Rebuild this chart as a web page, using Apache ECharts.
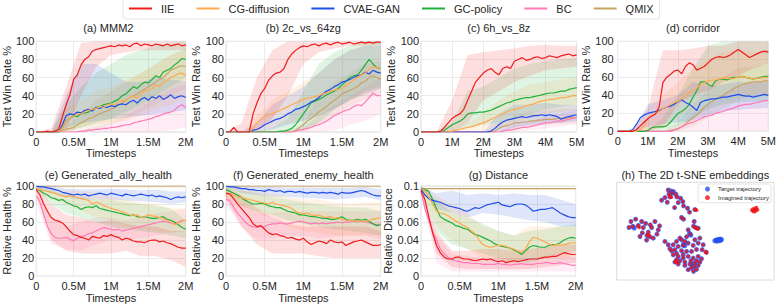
<!DOCTYPE html>
<html><head><meta charset="utf-8">
<script src="https://cdn.jsdelivr.net/npm/echarts@6/dist/echarts.min.js"></script>
<style>html,body{margin:0;padding:0;background:#fff}#c{width:781px;height:304px}</style>
</head><body><div id="c"></div>
<script>
const methods = ['IIE','CG-diffusion','CVAE-GAN','GC-policy','BC','QMIX'];
const methodColors = ['#ee1c1c','#ffa94d','#1f4de8','#1fb13a','#ff7ab6','#caa265'];

const xs2 = [0,0.05,0.1,0.15,0.2,0.25,0.3,0.35,0.4,0.45,0.5,0.55,0.6,0.65,0.7,0.75,0.8,0.85,0.9,0.95,1,1.05,1.1,1.15,1.2,1.25,1.3,1.35,1.4,1.45,1.5,1.55,1.6,1.65,1.7,1.75,1.8,1.85,1.9,1.95,2];
const xs5 = [0,0.125,0.25,0.375,0.5,0.625,0.75,0.875,1,1.125,1.25,1.375,1.5,1.625,1.75,1.875,2,2.125,2.25,2.375,2.5,2.625,2.75,2.875,3,3.125,3.25,3.375,3.5,3.625,3.75,3.875,4,4.125,4.25,4.375,4.5,4.625,4.75,4.875,5];
const bx2 = [0,0.2,0.4,0.6,0.8,1,1.2,1.4,1.6,1.8,2];
const bx5 = [0,0.5,1,1.5,2,2.5,3,3.5,4,4.5,5];
const ticks2 = ['0','0.5M','1M','1.5M','2M'];
const ticks5 = ['0','1M','2M','3M','4M','5M'];
const yRate = ['0','20','40','60','80','100'];
const yDist = ['0','0.02','0.04','0.06','0.08','0.1'];

// (a) MMM2
const a_IIE  = [0,0,0,1,0,1,3,17,30,41,58,63,74,80,83,89,91,92,93,94,95,94,96,95,96,94,97,98,95,97,96,95,97,96,95,97,95,96,97,95,96];
const a_CG   = [0,0,0,0,0,0,0,5,12,15,17,20,20,22,24,25,26,28,27,30,31,30,33,35,34,38,40,37,42,45,46,48,52,50,55,57,60,62,64,65,62];
const a_CVAE = [0,0,0,0,0,0,0,8,18,20,19,22,21,24,25,23,27,26,28,27,29,28,30,31,30,33,35,32,36,38,35,39,37,40,36,38,41,37,39,40,38];
const a_GC   = [0,0,0,0,0,0,0,5,12,15,18,17,20,21,22,25,27,28,30,31,32,34,36,40,42,46,50,48,52,55,54,58,62,60,66,68,70,74,77,81,80];
const a_BC   = [0,0,0,0,0,0,0,0,0,0,0,0,1,1,2,2,3,3,4,4,5,5,6,7,8,8,10,11,12,13,14,15,17,18,20,21,22,24,28,30,27];
const a_QMIX = [0,0,0,0,0,0,0,2,3,4,5,8,10,12,15,16,18,20,22,23,25,27,30,32,35,38,40,42,45,47,50,52,55,58,60,64,68,70,72,73,72];
const a_IIE_lo=[0,0,2,40,72,85,88,90,90,90,90], a_IIE_hi=[0,4,50,98,100,100,100,100,100,100,100];
const a_CG_lo=[0,0,0,5,8,10,12,18,25,30,38], a_CG_hi=[0,0,25,35,45,50,58,65,75,85,90];
const a_CVAE_lo=[0,0,5,10,12,14,16,18,20,22,24], a_CVAE_hi=[0,0,40,75,75,65,55,55,60,58,56];
const a_GC_lo=[0,0,0,5,10,15,22,30,40,50,60], a_GC_hi=[0,0,30,50,65,75,85,90,95,98,100];
const a_BC_lo=[0,0,0,0,0,0,0,0,0,2,5], a_BC_hi=[0,0,0,2,6,10,18,28,38,48,52];
const a_QMIX_lo=[0,0,0,0,2,8,15,22,30,40,48], a_QMIX_hi=[0,0,5,20,35,45,55,65,75,85,92];

// (b) 2c_vs_64zg
const b_IIE  = [0,0,5,0,0,0,0,20,32,42,48,57,62,65,66,70,80,86,90,93,95,94,96,97,95,97,98,96,98,99,97,98,99,97,98,99,98,99,98,99,99];
const b_CG   = [0,0,0,0,0,0,0,4,10,14,17,19,20,22,24,26,28,30,32,34,36,37,38,39,40,42,43,45,46,47,48,51,54,57,60,63,65,69,72,71,70];
const b_CVAE = [0,0,0,0,0,0,0,2,3,5,8,10,12,14,15,17,20,22,25,26,28,30,33,35,38,42,45,47,50,52,55,56,58,60,62,63,66,64,68,66,65];
const b_GC   = [0,0,0,0,0,0,0,0,0,0,0,0,0,0,1,1,2,4,8,14,20,26,32,34,36,38,41,43,45,48,52,56,60,62,63,68,74,80,75,71,70];
const b_BC   = [0,0,0,0,0,0,0,0,0,0,0,0,0,0,0,0,0,0,1,2,3,4,5,7,8,10,12,15,18,20,22,24,25,28,30,29,33,38,43,40,40];
const b_QMIX = [0,0,0,0,0,0,0,0,0,0,0,0,0,0,0,0,0,0,2,5,8,12,15,18,22,25,28,32,35,38,42,44,46,48,50,54,56,60,62,60,58];
const b_IIE_lo=[0,0,0,15,40,75,88,92,95,95,96], b_IIE_hi=[0,10,60,90,100,100,100,100,100,100,100];
const b_CG_lo=[0,0,0,5,10,12,18,25,35,42,48], b_CG_hi=[0,0,18,35,45,55,65,80,90,95,95];
const b_CVAE_lo=[0,0,0,3,8,12,18,25,35,42,48], b_CVAE_hi=[0,0,10,30,40,50,65,80,90,95,95];
const b_GC_lo=[0,0,0,0,0,2,10,25,35,45,50], b_GC_hi=[0,0,0,5,15,45,75,88,95,100,100];
const b_BC_lo=[0,0,0,0,0,0,0,2,8,12,20], b_BC_hi=[0,0,0,0,0,5,18,30,40,50,60];
const b_QMIX_lo=[0,0,0,0,0,0,8,18,28,36,42], b_QMIX_hi=[0,0,0,0,0,10,40,55,65,75,78];

// (c) 6h_vs_8z
const c_IIE  = [0,0,0,0,0,1,5,10,15,18,20,25,35,45,55,60,65,68,70,66,63,70,72,70,78,80,82,79,80,82,83,81,82,84,83,82,84,85,86,84,85];
const c_CG   = [0,0,0,0,0,0,0,0,1,2,3,4,5,6,7,9,10,12,14,16,18,20,22,24,25,26,27,29,30,31,33,34,35,36,36,37,38,38,39,40,40];
const c_CVAE = [0,0,0,0,0,0,0,0,0,0,0,0,0,0,0,0,0,0,1,4,8,11,13,14,15,16,17,16,17,18,18,19,18,19,18,17,14,16,17,18,19];
const c_GC   = [0,0,0,0,0,0,2,5,8,10,12,15,20,21,21,22,22,23,24,26,28,30,32,33,35,36,37,38,38,39,40,41,42,43,43,44,45,45,47,48,49];
const c_BC   = [0,0,0,0,0,0,0,0,0,0,0,0,0,0,0,0,0,0,0,0,0,1,2,2,3,4,5,5,6,7,8,9,10,10,11,12,12,13,14,15,16];
const c_QMIX = [0,0,0,0,0,1,0,0,0,0,0,0,0,0,0,0,0,0,0,1,4,6,7,8,10,10,11,11,12,12,13,13,14,14,14,15,15,15,16,16,16];
const c_IIE_lo=[0,0,0,10,35,45,55,62,68,70,72], c_IIE_hi=[0,0,35,85,88,90,92,95,96,95,95];
const c_CG_lo=[0,0,0,0,2,5,10,15,20,22,25], c_CG_hi=[0,0,0,10,20,35,45,52,55,58,60];
const c_CVAE_lo=[0,0,0,0,0,0,5,8,10,10,12], c_CVAE_hi=[0,0,0,0,0,20,30,30,32,30,30];
const c_GC_lo=[0,0,0,5,8,10,15,20,25,28,30], c_GC_hi=[0,0,10,45,50,60,70,75,78,80,82];
const c_BC_lo=[0,0,0,0,0,0,0,2,4,6,8], c_BC_hi=[0,0,0,0,0,0,8,12,18,20,25];
const c_QMIX_lo=[0,0,0,0,0,0,3,6,8,9,10], c_QMIX_hi=[0,0,0,0,0,10,18,22,24,25,26];

// (d) corridor
const d_IIE  = [0,0,0,0,0,2,6,10,14,17,19,27,54,60,63,67,68,64,72,76,74,68,70,72,76,80,82,83,82,83,85,88,91,88,85,82,84,86,88,89,88];
const d_CG   = [0,0,0,0,0,0,2,6,14,17,20,22,25,27,30,32,33,36,40,43,45,48,52,54,56,57,57,58,59,60,58,59,60,61,60,59,58,59,59,60,60];
const d_CVAE = [0,0,0,0,2,8,15,18,20,21,22,23,25,27,28,30,33,35,32,30,27,23,32,34,35,36,36,37,38,38,39,40,41,40,39,39,38,39,40,41,40];
const d_GC   = [0,0,0,0,0,0,0,0,1,4,5,5,5,6,10,15,20,22,25,30,38,45,55,55,52,50,56,58,58,57,59,60,60,61,60,59,58,59,60,61,61];
const d_BC   = [0,0,0,0,0,0,0,0,0,0,0,0,0,0,0,1,3,5,7,9,10,12,14,16,17,18,20,21,22,24,25,26,28,29,30,30,31,32,33,34,34];
const d_QMIX = [0,0,0,0,0,0,0,0,0,0,0,0,0,0,1,2,3,5,8,12,15,18,22,27,30,33,36,38,40,43,45,48,50,52,53,54,55,55,55,56,56];
const d_IIE_lo=[0,0,0,5,30,40,45,55,62,70,75], d_IIE_hi=[0,0,25,90,90,92,95,95,100,100,100];
const d_CG_lo=[0,0,0,5,15,25,35,40,42,40,42], d_CG_hi=[0,0,10,40,55,70,80,88,90,88,90];
const d_CVAE_lo=[0,0,5,8,10,12,18,22,24,25,26], d_CVAE_hi=[0,0,30,35,40,55,50,52,55,54,55];
const d_GC_lo=[0,0,0,0,5,15,25,30,32,33,34], d_GC_hi=[0,0,0,15,40,70,95,100,100,100,100];
const d_BC_lo=[0,0,0,0,0,0,0,0,0,0,0], d_BC_hi=[0,0,0,0,5,20,30,40,50,55,60];
const d_QMIX_lo=[0,0,0,0,0,5,15,25,35,40,42], d_QMIX_hi=[0,0,0,0,10,30,45,60,70,72,74];

// (e) Generated_ally_health
const e_IIE  = [96,90,80,72,65,62,61,59,55,50,46,45,43,42,40,44,43,42,45,44,46,44,43,40,42,41,39,38,38,37,39,40,40,38,39,37,36,34,32,31,31];
const e_CG   = [97,96,95,94,93,92,90,89,88,89,88,87,86,85,84,80,82,81,78,77,75,74,73,71,70,68,67,68,65,66,68,67,66,65,64,62,60,57,59,61,62];
const e_CVAE = [100,99,99,98,97,96,95,93,92,91,90,91,90,91,89,90,91,92,91,90,92,91,90,89,91,90,89,90,91,90,89,90,88,89,88,87,85,87,88,87,88];
const e_GC   = [97,95,92,90,87,86,84,85,82,80,78,77,74,76,77,76,78,75,74,73,72,71,70,69,68,67,68,66,65,66,65,64,64,65,66,63,62,60,57,54,52];
const e_BC   = [89,82,68,55,47,43,42,42,43,41,39,42,44,45,47,48,50,52,54,53,52,51,52,50,51,52,53,54,55,56,57,58,59,60,61,60,59,58,60,62,62];
const e_QMIX = [100,100,100,100,100,100,100,100,100,100,100,100,100,100,100,100,100,100,100,100,100,100,100,100,100,100,100,100,100,100,100,100,100,100,100,100,100,100,100,100,100];
const e_IIE_lo=[92,40,28,25,25,25,28,22,22,18,10], e_IIE_hi=[100,80,68,65,60,62,58,55,55,50,50];
const e_CG_lo=[95,85,80,72,65,62,55,52,50,48,50], e_CG_hi=[100,98,95,95,92,88,85,82,80,75,75];
const e_CVAE_lo=[98,92,88,85,85,85,84,83,82,80,82], e_CVAE_hi=[100,100,97,96,96,97,96,95,96,94,94];
const e_GC_lo=[95,80,70,65,60,55,52,50,48,45,42], e_GC_hi=[100,95,90,88,85,85,82,80,78,75,62];
const e_BC_lo=[82,35,30,28,35,40,40,42,45,48,50], e_BC_hi=[95,65,55,60,65,65,62,65,70,72,75];
const e_QMIX_lo=[98,98,98,98,98,98,98,98,98,98,98], e_QMIX_hi=[100,100,100,100,100,100,100,100,100,100,100];

// (f) Generated_enemy_health
const f_IIE  = [92,91,86,80,75,70,65,58,55,56,52,48,46,47,45,44,42,43,41,40,42,38,35,37,39,38,36,40,38,37,38,34,36,38,39,40,38,36,34,34,35];
const f_CG   = [90,92,90,88,87,86,85,84,83,82,81,80,82,80,79,78,77,75,72,70,69,70,68,67,68,66,65,66,64,65,63,62,62,61,62,61,60,62,63,64,65];
const f_CVAE = [100,99,99,98,97,97,96,96,95,95,94,96,95,94,95,93,94,94,93,94,93,92,93,93,92,93,92,93,92,91,93,92,92,93,94,95,94,92,90,89,89];
const f_GC   = [96,94,92,90,87,84,82,80,80,81,80,78,77,76,76,74,72,71,70,68,68,67,66,66,65,64,64,63,63,64,66,63,62,62,63,62,63,61,58,56,57];
const f_BC   = [85,84,76,70,65,60,56,55,54,55,55,57,58,58,59,58,58,59,60,61,60,59,58,59,58,59,58,59,59,60,59,60,60,61,60,61,60,59,58,57,58];
const f_QMIX = [100,100,100,100,100,100,100,100,100,100,100,100,100,100,100,100,100,100,100,100,100,100,100,100,100,100,100,100,100,100,100,100,100,100,100,100,100,100,100,100,100];
const f_IIE_lo=[85,55,35,25,25,25,22,20,20,20,20], f_IIE_hi=[98,90,75,65,58,55,55,55,55,55,50];
const f_CG_lo=[85,78,70,65,55,50,48,45,45,45,45], f_CG_hi=[98,98,95,92,88,85,85,82,80,82,82];
const f_CVAE_lo=[98,92,90,88,88,87,86,85,86,88,84], f_CVAE_hi=[100,100,99,99,98,98,98,98,98,99,96];
const f_GC_lo=[92,78,72,68,62,58,55,52,50,48,45], f_GC_hi=[100,95,92,88,85,82,80,78,76,76,72];
const f_BC_lo=[78,55,40,42,45,45,42,44,45,45,40], f_BC_hi=[92,80,70,70,72,72,72,72,72,72,72];
const f_QMIX_lo=[98,98,98,98,98,98,98,98,98,98,98], f_QMIX_hi=[100,100,100,100,100,100,100,100,100,100,100];

// (g) Distance
const g_IIE  = [.095,.085,.066,.048,.034,.026,.021,.019,.019,.021,.021,.019,.019,.018,.017,.018,.019,.018,.019,.017,.016,.017,.015,.016,.017,.016,.017,.018,.019,.019,.019,.020,.021,.021,.022,.022,.024,.026,.025,.024,.024];
const g_CG   = [.097,.095,.088,.080,.072,.070,.069,.067,.064,.061,.059,.056,.054,.050,.047,.040,.035,.033,.032,.033,.034,.034,.033,.031,.030,.028,.026,.030,.038,.043,.042,.040,.038,.036,.034,.035,.034,.035,.036,.037,.037];
const g_CVAE = [.097,.090,.086,.084,.083,.082,.080,.078,.077,.076,.075,.073,.072,.074,.076,.075,.077,.079,.080,.081,.082,.079,.078,.077,.079,.080,.080,.079,.076,.072,.073,.074,.074,.075,.076,.073,.070,.068,.066,.065,.065];
const g_GC   = [.097,.096,.094,.085,.075,.066,.063,.061,.059,.056,.055,.053,.052,.049,.046,.045,.043,.041,.039,.036,.034,.033,.032,.031,.029,.027,.024,.028,.032,.034,.033,.032,.032,.034,.035,.035,.037,.040,.042,.043,.042];
const g_BC   = [.095,.075,.062,.050,.040,.030,.025,.021,.018,.017,.016,.015,.015,.014,.014,.014,.013,.013,.013,.013,.014,.013,.013,.012,.013,.013,.014,.013,.013,.013,.014,.014,.015,.015,.014,.014,.015,.014,.013,.012,.012];
const g_QMIX = [.097,.097,.097,.097,.097,.097,.097,.097,.097,.097,.097,.097,.097,.097,.097,.097,.097,.097,.097,.097,.097,.097,.097,.097,.097,.097,.097,.097,.097,.097,.097,.097,.097,.097,.097,.097,.097,.097,.097,.097,.097];
const g_IIE_lo=[.093,.025,.010,.008,.008,.008,.008,.008,.010,.012,.015], g_IIE_hi=[.098,.050,.028,.028,.030,.030,.028,.030,.032,.035,.035];
const g_CG_lo=[.095,.055,.040,.030,.020,.018,.015,.022,.020,.020,.022], g_CG_hi=[.100,.090,.080,.070,.055,.050,.045,.055,.055,.055,.055];
const g_CVAE_lo=[.095,.075,.070,.065,.070,.068,.065,.062,.060,.055,.055], g_CVAE_hi=[.100,.092,.095,.090,.092,.090,.092,.090,.090,.085,.080];
const g_GC_lo=[.095,.050,.035,.030,.025,.020,.015,.015,.020,.025,.028], g_GC_hi=[.100,.085,.070,.065,.058,.050,.045,.050,.052,.055,.058];
const g_BC_lo=[.090,.015,.005,.005,.005,.005,.005,.005,.005,.005,.005], g_BC_hi=[.095,.045,.025,.022,.020,.020,.020,.020,.022,.025,.020];
const g_QMIX_lo=[.096,.096,.096,.096,.096,.096,.096,.096,.096,.096,.096], g_QMIX_hi=[.098,.098,.098,.098,.098,.098,.098,.098,.098,.098,.098];

// (h) t-SNE embeddings (2D coordinates)
const tsneShared = [[160,45],[172,52],[162,57],[183,58],[150,68],[140,76],[157,82],[186,66],[197,70],[204,80],[190,83],[179,98],[206,93],[165,66],
[218,100],[224,112],[240,104],[200,128],[206,133],[238,140],[242,158],[236,154],[250,160],
[62,133],[48,140],[80,140],[92,146],[120,140],[53,155],[42,158],[70,152],[85,158],[106,150],[110,158],[134,153],[100,172],[96,182],[105,186],[82,174],[115,190],[95,196],[126,178],[130,165],[75,185],
[220,165],[226,178],[215,186],[200,195],[210,200],[185,200],[150,200],[175,210],[190,215],[205,212],[220,205],[240,195],[255,190],[250,205],[265,210],[274,232],[262,225],[245,224],[230,230],[215,230],[200,228],[185,236],[175,240],[190,245],[205,250],[220,245],[235,250],[250,245],[260,252],[240,265],[225,268],[210,272],[230,280],[245,284],[236,290],[250,272],[185,255],[180,262],[190,268],[210,262],[165,222],[180,225],[195,258],[228,258],[245,258],[255,262],[238,275],[220,285],[205,240],[170,228],[160,210],[195,190],[235,212]];
const tsneTargetOnly = [[168,48],[176,50],[172,55],[58,160],[55,156],[224,176],[228,181],[206,208],[210,213],[232,268],[236,271],[300,198],[304,196],[308,195],[312,194],[316,193],[320,194],[306,199],[312,198],[318,197]];
const tsneImaginedOnly = [[166,63],[170,67],[242,104],[246,106],[244,161],[248,163],[70,155],[73,158],[100,178],[103,183],[272,232],[276,235],[182,260],[185,263],[414,102],[420,100],[426,102],[417,107],[424,108],[420,111],[411,106],[429,105],[420,104],[415,110],[425,98]];

const FONT = '"Liberation Sans", Arial, Helvetica, sans-serif';
const TXT = '#262626';

const panels = [
  {title:'(a) MMM2', box:[31,41.3,154.7,90.7], tTop:22, xs:xs2, bx:bx2, xMax:2, xStep:0.5, xLab:ticks2, yMax:100, yStep:20, yLab:yRate, yName:'Test Win Rate %', yGap:20, yMargin:2,
   lines:[a_IIE,a_CG,a_CVAE,a_GC,a_BC,a_QMIX], lo:[a_IIE_lo,a_CG_lo,a_CVAE_lo,a_GC_lo,a_BC_lo,a_QMIX_lo], hi:[a_IIE_hi,a_CG_hi,a_CVAE_hi,a_GC_hi,a_BC_hi,a_QMIX_hi]},
  {title:'(b) 2c_vs_64zg', box:[226,41.3,154.7,90.7], tTop:22, xs:xs2, bx:bx2, xMax:2, xStep:0.5, xLab:ticks2, yMax:100, yStep:20, yLab:yRate, yName:'Test Win Rate %', yGap:20, yMargin:2,
   lines:[b_IIE,b_CG,b_CVAE,b_GC,b_BC,b_QMIX], lo:[b_IIE_lo,b_CG_lo,b_CVAE_lo,b_GC_lo,b_BC_lo,b_QMIX_lo], hi:[b_IIE_hi,b_CG_hi,b_CVAE_hi,b_GC_hi,b_BC_hi,b_QMIX_hi]},
  {title:'(c) 6h_vs_8z', box:[421,41.3,155.7,90.7], tTop:22, xs:xs5, bx:bx5, xMax:5, xStep:1, xLab:ticks5, yMax:100, yStep:20, yLab:yRate, yName:'Test Win Rate %', yGap:20, yMargin:2,
   lines:[c_IIE,c_CG,c_CVAE,c_GC,c_BC,c_QMIX], lo:[c_IIE_lo,c_CG_lo,c_CVAE_lo,c_GC_lo,c_BC_lo,c_QMIX_lo], hi:[c_IIE_hi,c_CG_hi,c_CVAE_hi,c_GC_hi,c_BC_hi,c_QMIX_hi]},
  {title:'(d) corridor', box:[617.7,41.3,150.6,90], tTop:22, xs:xs5, bx:bx5, xMax:5, xStep:1, xLab:ticks5, yMax:100, yStep:20, yLab:yRate, yName:'Test Win Rate %', yGap:21, yMargin:4,
   lines:[d_IIE,d_CG,d_CVAE,d_GC,d_BC,d_QMIX], lo:[d_IIE_lo,d_CG_lo,d_CVAE_lo,d_GC_lo,d_BC_lo,d_QMIX_lo], hi:[d_IIE_hi,d_CG_hi,d_CVAE_hi,d_GC_hi,d_BC_hi,d_QMIX_hi]},
  {title:'(e) Generated_ally_health', box:[31,186,154.7,91], tTop:169.5, xs:xs2, bx:bx2, xMax:2, xStep:0.5, xLab:ticks2, yMax:100, yStep:20, yLab:yRate, yName:'Relative Health %', yGap:20, yMargin:2,
   lines:[e_IIE,e_CG,e_CVAE,e_GC,e_BC,e_QMIX], lo:[e_IIE_lo,e_CG_lo,e_CVAE_lo,e_GC_lo,e_BC_lo,e_QMIX_lo], hi:[e_IIE_hi,e_CG_hi,e_CVAE_hi,e_GC_hi,e_BC_hi,e_QMIX_hi]},
  {title:'(f) Generated_enemy_health', box:[226,186,154.7,91], tTop:169.5, xs:xs2, bx:bx2, xMax:2, xStep:0.5, xLab:ticks2, yMax:100, yStep:20, yLab:yRate, yName:'Relative Health %', yGap:20, yMargin:2,
   lines:[f_IIE,f_CG,f_CVAE,f_GC,f_BC,f_QMIX], lo:[f_IIE_lo,f_CG_lo,f_CVAE_lo,f_GC_lo,f_BC_lo,f_QMIX_lo], hi:[f_IIE_hi,f_CG_hi,f_CVAE_hi,f_GC_hi,f_BC_hi,f_QMIX_hi]},
  {title:'(g) Distance', box:[421,186,154.7,91], tTop:169.5, xs:xs2, bx:bx2, xMax:2, xStep:0.5, xLab:ticks2, yMax:0.1, yStep:0.02, yLab:yDist, yName:'Relative Distance', yGap:20, yMargin:2,
   lines:[g_IIE,g_CG,g_CVAE,g_GC,g_BC,g_QMIX], lo:[g_IIE_lo,g_CG_lo,g_CVAE_lo,g_GC_lo,g_BC_lo,g_QMIX_lo], hi:[g_IIE_hi,g_CG_hi,g_CVAE_hi,g_GC_hi,g_BC_hi,g_QMIX_hi]}
];

function bandSeries(gi, bx, lo, hi, color) {
  const pts = bx.map((x, j) => [x, lo[j], hi[j]]);
  return {
    type:'custom', xAxisIndex:gi, yAxisIndex:gi, silent:true, z:1, clip:true, animation:false,
    encode:{x:0, y:[1,2]}, data:pts,
    renderItem:(params, api) => {
      if (params.dataIndex !== 0) return null;
      const up = pts.map(q => api.coord([q[0], q[2]]));
      const dn = pts.map(q => api.coord([q[0], q[1]])).reverse();
      return {type:'polygon', shape:{points:up.concat(dn)}, style:{fill:color, opacity:0.14}};
    }
  };
}

const grids = [], xAxes = [], yAxes = [], series = [], titles = [];
panels.forEach((p, i) => {
  const [l, t, w, h] = p.box;
  grids.push({left:l, top:t, width:w, height:h, show:true, borderColor:'#dcdcdc', borderWidth:1, backgroundColor:'rgba(0,0,0,0)'});
  xAxes.push({type:'value', gridIndex:i, min:0, max:p.xMax, interval:p.xStep,
    name:'Timesteps', nameLocation:'middle', nameGap:15,
    nameTextStyle:{fontSize:11, color:TXT, fontFamily:FONT},
    axisLine:{show:false}, axisTick:{show:false},
    splitLine:{show:true, lineStyle:{color:'#ebebeb', width:1}},
    axisLabel:{fontSize:11, color:TXT, fontFamily:FONT, margin:4, showMinLabel:true, showMaxLabel:true,
      formatter:v => p.xLab[Math.round(v / p.xStep)]}});
  yAxes.push({type:'value', gridIndex:i, min:0, max:p.yMax, interval:p.yStep,
    name:p.yName, nameLocation:'middle', nameGap:p.yGap, nameRotate:90,
    nameTextStyle:{fontSize:11, color:TXT, fontFamily:FONT},
    axisLine:{show:false}, axisTick:{show:false},
    splitLine:{show:true, lineStyle:{color:'#ebebeb', width:1}},
    axisLabel:{fontSize:11, color:TXT, fontFamily:FONT, margin:p.yMargin, showMinLabel:true, showMaxLabel:true,
      formatter:v => p.yLab[Math.round(v / p.yStep)]}});
  titles.push({text:p.title, left:l + w / 2, top:p.tTop, textAlign:'center', textVerticalAlign:'top', padding:0,
    textStyle:{fontSize:11, fontWeight:'normal', color:TXT, fontFamily:FONT}});
  for (let k = 5; k >= 0; k--) series.push(bandSeries(i, p.bx, p.lo[k], p.hi[k], methodColors[k]));
  for (let k = 5; k >= 0; k--) {
    series.push({type:'line', name:methods[k], xAxisIndex:i, yAxisIndex:i, z:2, silent:true, animation:false,
      symbol:'none', showSymbol:false, color:methodColors[k],
      lineStyle:{width:1.2, color:methodColors[k]}, itemStyle:{color:methodColors[k]},
      data:p.xs.map((x, j) => [x, p.lines[k][j]])});
  }
});

// (h) t-SNE panel
const hi = panels.length;
grids.push({left:616.7, top:182.3, width:157.3, height:97.7, show:true, borderColor:'#dcdcdc', borderWidth:1, backgroundColor:'rgba(0,0,0,0)'});
xAxes.push({type:'value', gridIndex:hi, min:5, max:478, show:false});
yAxes.push({type:'value', gridIndex:hi, min:22, max:316, inverse:true, show:false});
titles.push({text:'(h) The 2D t-SNE embeddings', left:695.3, top:169, textAlign:'center', textVerticalAlign:'top', padding:0,
  textStyle:{fontSize:11, fontWeight:'normal', color:TXT, fontFamily:FONT}});
series.push({type:'scatter', name:'Target trajectory', xAxisIndex:hi, yAxisIndex:hi, z:2, silent:true, animation:false,
  symbolSize:5, itemStyle:{color:'#2450ee'}, data:tsneShared.concat(tsneTargetOnly)});
series.push({type:'scatter', name:'Imagined trajectory', xAxisIndex:hi, yAxisIndex:hi, z:3, silent:true, animation:false,
  symbolSize:3.4, itemStyle:{color:'#f01212'}, data:tsneShared.concat(tsneImaginedOnly)});

const chart = echarts.init(document.getElementById('c'), null, {renderer:'svg', width:781, height:304});
chart.setOption({
  animation:false,
  backgroundColor:'#ffffff',
  textStyle:{fontFamily:FONT},
  title:titles,
  legend:[
    {data:methods, left:123, top:-2, padding:[5,6,5,6], itemGap:22, itemWidth:23, itemHeight:2, icon:'rect',
     selectedMode:false, borderColor:'#e3e3e3', borderWidth:1, borderRadius:3, backgroundColor:'#fff',
     textStyle:{fontSize:11, color:TXT, fontFamily:FONT, padding:[0,0,0,4]}},
    {data:['Target trajectory','Imagined trajectory'], orient:'vertical', left:698, top:184, padding:[2,2,2,7],
     itemGap:2.7, itemWidth:5, itemHeight:5, icon:'circle', selectedMode:false,
     borderColor:'#e3e3e3', borderWidth:1, borderRadius:2, backgroundColor:'#fff',
     textStyle:{fontSize:6, color:TXT, fontFamily:FONT, padding:[0,0,0,3]}}
  ],
  grid:grids, xAxis:xAxes, yAxis:yAxes, series:series
});
</script></body></html>
